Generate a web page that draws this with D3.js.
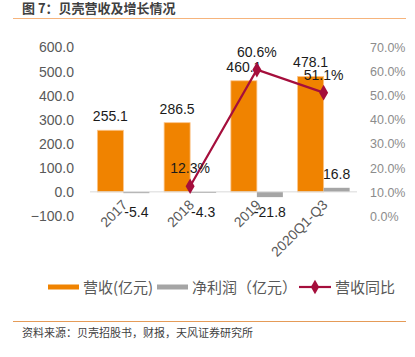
<!DOCTYPE html>
<html><head><meta charset="utf-8">
<script src="https://cdn.jsdelivr.net/npm/d3@7/dist/d3.min.js"></script>
<style>body{margin:0;background:#fff;}svg{display:block;font-family:"Liberation Sans","Noto Sans CJK SC",Arial,sans-serif;}</style>
</head><body>
<script>
const categories = ["2017", "2018", "2019", "2020Q1-Q3"];
const revenue = [255.1, 286.5, 460.1, 478.1];
const netProfit = [-5.4, -4.3, -21.8, 16.8];
const growth = [null, 12.3, 60.6, 51.1];
const leftTicks = [-100, 0, 100, 200, 300, 400, 500, 600];
const rightTicks = [0, 10, 20, 30, 40, 50, 60, 70];
const seriesNames = ["营收(亿元)", "净利润（亿元）", "营收同比"];
const title = "图 7：贝壳营收及增长情况";
const source = "资料来源：贝壳招股书，财报，天风证券研究所";

const W = 415, H = 357;
const svg = d3.select("body").append("svg").attr("width", W).attr("height", H);
const cjk = '"Noto Sans CJK SC",sans-serif';

// title & rules
svg.append("text").attr("x", 22).attr("y", 13).attr("font-size", 13).attr("font-weight", "bold")
  .attr("font-family", cjk).attr("fill", "#404040").text(title);
svg.append("line").attr("x1", 13).attr("x2", 406).attr("y1", 18.5).attr("y2", 18.5)
  .attr("stroke", "#f6b47c").attr("stroke-width", 1.2);
svg.append("line").attr("x1", 13).attr("x2", 406).attr("y1", 321.5).attr("y2", 321.5)
  .attr("stroke", "#e59b58").attr("stroke-width", 1);
svg.append("text").attr("x", 22).attr("y", 337).attr("font-size", 11)
  .attr("font-family", cjk).attr("fill", "#404040").text(source);

const x = d3.scaleBand().domain(categories).range([90, 357]);
const yL = d3.scaleLinear().domain([-100, 600]).range([216, 47]);
const yR = d3.scaleLinear().domain([0, 70]).range([216, 47]);
const bw = 26;

// axes
const axL = svg.append("g").attr("transform", "translate(77,0)")
  .call(d3.axisLeft(yL).tickValues(leftTicks).tickFormat(d3.format(".1f")).tickSize(0));
axL.select(".domain").remove();
axL.selectAll("text").attr("font-size", 14).attr("fill", "#595959").attr("dy", "0.35em");

const axR = svg.append("g").attr("transform", "translate(367,0)")
  .call(d3.axisRight(yR).tickValues(rightTicks).tickFormat(d => d.toFixed(1) + "%").tickSize(0));
axR.select(".domain").remove();
axR.selectAll("text").attr("font-size", 12.5).attr("fill", "#8c8c8c").attr("dy", "0.35em");

// bars
svg.selectAll(".rev").data(revenue).enter().append("rect")
  .attr("x", (d, i) => x(categories[i]) + x.bandwidth() / 2 - bw)
  .attr("y", d => yL(d)).attr("width", bw).attr("height", d => yL(0) - yL(d))
  .attr("fill", "#f08300").attr("stroke", "#fbc48a").attr("stroke-width", 0.8);
svg.selectAll(".np").data(netProfit).enter().append("rect")
  .attr("x", (d, i) => x(categories[i]) + x.bandwidth() / 2)
  .attr("y", d => yL(Math.max(0, d))).attr("width", bw)
  .attr("height", d => Math.abs(yL(d) - yL(0)))
  .attr("fill", "#a5a5a5");

// zero axis line
svg.append("line").attr("x1", 90).attr("x2", 357).attr("y1", yL(0)).attr("y2", yL(0))
  .attr("stroke", "#d9d9d9").attr("stroke-width", 1);

// x labels
const axX = svg.append("g").attr("transform", `translate(0,${yL(0)})`)
  .call(d3.axisBottom(x).tickSize(0));
axX.select(".domain").remove();
axX.selectAll("text").attr("font-size", 14).attr("fill", "#595959")
  .attr("text-anchor", "end").attr("dy", 0).attr("y", 0)
  .attr("transform", "translate(5,14) rotate(-45)");

// bar labels
svg.selectAll(".revl").data(revenue).enter().append("text")
  .attr("x", (d, i) => x(categories[i]) + x.bandwidth() / 2 - bw / 2)
  .attr("y", d => yL(d) - 9).attr("text-anchor", "middle")
  .attr("font-size", 14).attr("fill", "#1a1a1a").text(d => d.toFixed(1));
svg.selectAll(".npl").data(netProfit).enter().append("text")
  .attr("x", (d, i) => x(categories[i]) + x.bandwidth() / 2 + bw / 2)
  .attr("y", d => d < 0 ? yL(0) + 25 : yL(d) - 9).attr("text-anchor", "middle")
  .attr("font-size", 14).attr("fill", "#1a1a1a").text(d => d.toFixed(1));

// growth line
const pts = growth.map((g, i) => ({ g, c: categories[i] })).filter(p => p.g !== null);
const lineColor = "#a50e3c";
svg.append("path").datum(pts)
  .attr("d", d3.line().x(p => x(p.c) + x.bandwidth() / 2).y(p => yR(p.g)))
  .attr("fill", "none").attr("stroke", lineColor).attr("stroke-width", 2.2);
svg.selectAll(".mk").data(pts).enter().append("path")
  .attr("d", d3.symbol(d3.symbolDiamond, 70))
  .attr("transform", p => `translate(${x(p.c) + x.bandwidth() / 2},${yR(p.g)})`)
  .attr("fill", lineColor);
svg.selectAll(".gl").data(pts).enter().append("text")
  .attr("x", p => x(p.c) + x.bandwidth() / 2).attr("y", p => yR(p.g) - 13)
  .attr("text-anchor", "middle").attr("font-size", 14).attr("fill", "#1a1a1a")
  .text(p => p.g.toFixed(1) + "%");

// legend
const lg = svg.append("g").attr("font-family", cjk).attr("font-size", 15).attr("fill", "#595959");
lg.append("rect").attr("x", 48).attr("y", 284.5).attr("width", 31).attr("height", 5).attr("fill", "#f08300");
lg.append("text").attr("x", 83).attr("y", 293).text(seriesNames[0]);
lg.append("rect").attr("x", 157).attr("y", 284.5).attr("width", 31).attr("height", 5).attr("fill", "#a5a5a5");
lg.append("text").attr("x", 192).attr("y", 293).text(seriesNames[1]);
lg.append("line").attr("x1", 299).attr("x2", 331).attr("y1", 287).attr("y2", 287)
  .attr("stroke", lineColor).attr("stroke-width", 2.2);
lg.append("path").attr("d", d3.symbol(d3.symbolDiamond, 60))
  .attr("transform", "translate(315,287)").attr("fill", lineColor);
lg.append("text").attr("x", 335).attr("y", 293).text(seriesNames[2]);
</script>
</body></html>
